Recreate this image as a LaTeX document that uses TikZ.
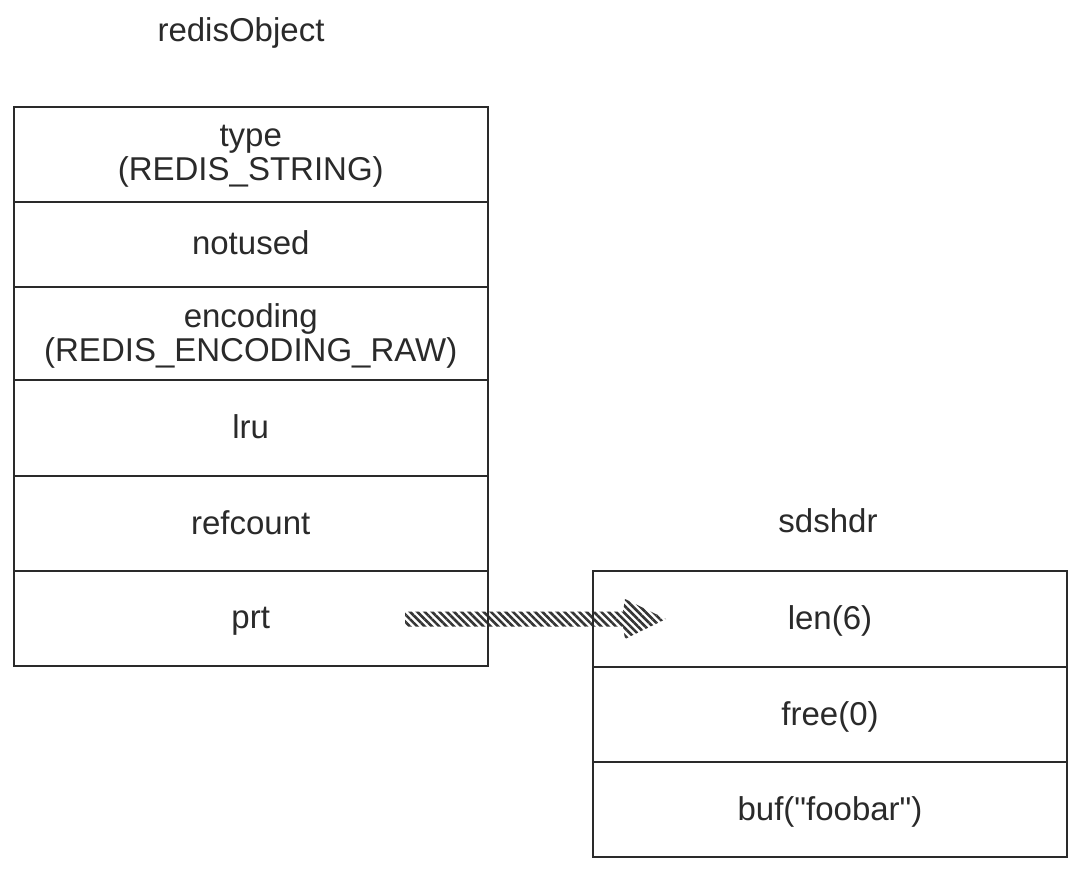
\documentclass[tikz,border=0pt]{standalone}
\usepackage{fontspec}
\setmainfont{Liberation Sans}
\usetikzlibrary{patterns.meta,calc}
\definecolor{ink}{HTML}{2A2A2A}
\begin{document}
\begin{tikzpicture}[x=1pt,y=-1pt,
  cell/.style={draw=ink,line width=2pt,minimum width=474pt,inner sep=0pt,outer sep=0pt,
    align=center,font=\fontsize{33}{34}\selectfont,text=ink,text depth=2pt},
  title/.style={font=\fontsize{33}{34}\selectfont,text=ink,inner sep=0pt},
  hatch/.style={pattern={Lines[angle=-45,distance=5.2pt,line width=2.6pt]},pattern color=ink!95}]
\useasboundingbox[fill=white] (0,0) rectangle (1080,871);
% titles
\node[title] (t1) at (241,33) {redisObject};
\node[title] (t2) at (828,521) {sdshdr};
% arrow coordinates
\coordinate (as) at (405,619);
\coordinate (ae) at (666,619);
\fill[hatch] ($(as)+(0,-7.5)$) -- ($(ae)+(-43,-7.5)$) -- ($(ae)+(-41,-20)$) -- (ae)
  -- ($(ae)+(-41,20)$) -- ($(ae)+(-43,7.5)$) -- ($(as)+(0,7.5)$) -- cycle;
% redisObject cells
\node[cell,minimum height=95pt] (type) at (250.75,154) {type\\(REDIS\_STRING)};
\node[cell,minimum height=85pt] (notused) at (250.75,244) {notused};
\node[cell,minimum height=93.5pt] (enc) at (250.75,333.25) {encoding\\(REDIS\_ENCODING\_RAW)};
\node[cell,minimum height=96pt] (lru) at (250.75,428) {lru};
\node[cell,minimum height=95pt] (ref) at (250.75,523.5) {refcount};
\node[cell,minimum height=95pt] (prt) at (250.75,618.5) {prt};
% sdshdr cells
\node[cell,minimum height=96pt] (len) at (830,619) {len(6)};
\node[cell,minimum height=95pt] (free) at (830,714.5) {free(0)};
\node[cell,minimum height=95pt] (buf) at (830,809.5) {buf(\textquotedbl foobar\textquotedbl)};
\end{tikzpicture}
\end{document}
